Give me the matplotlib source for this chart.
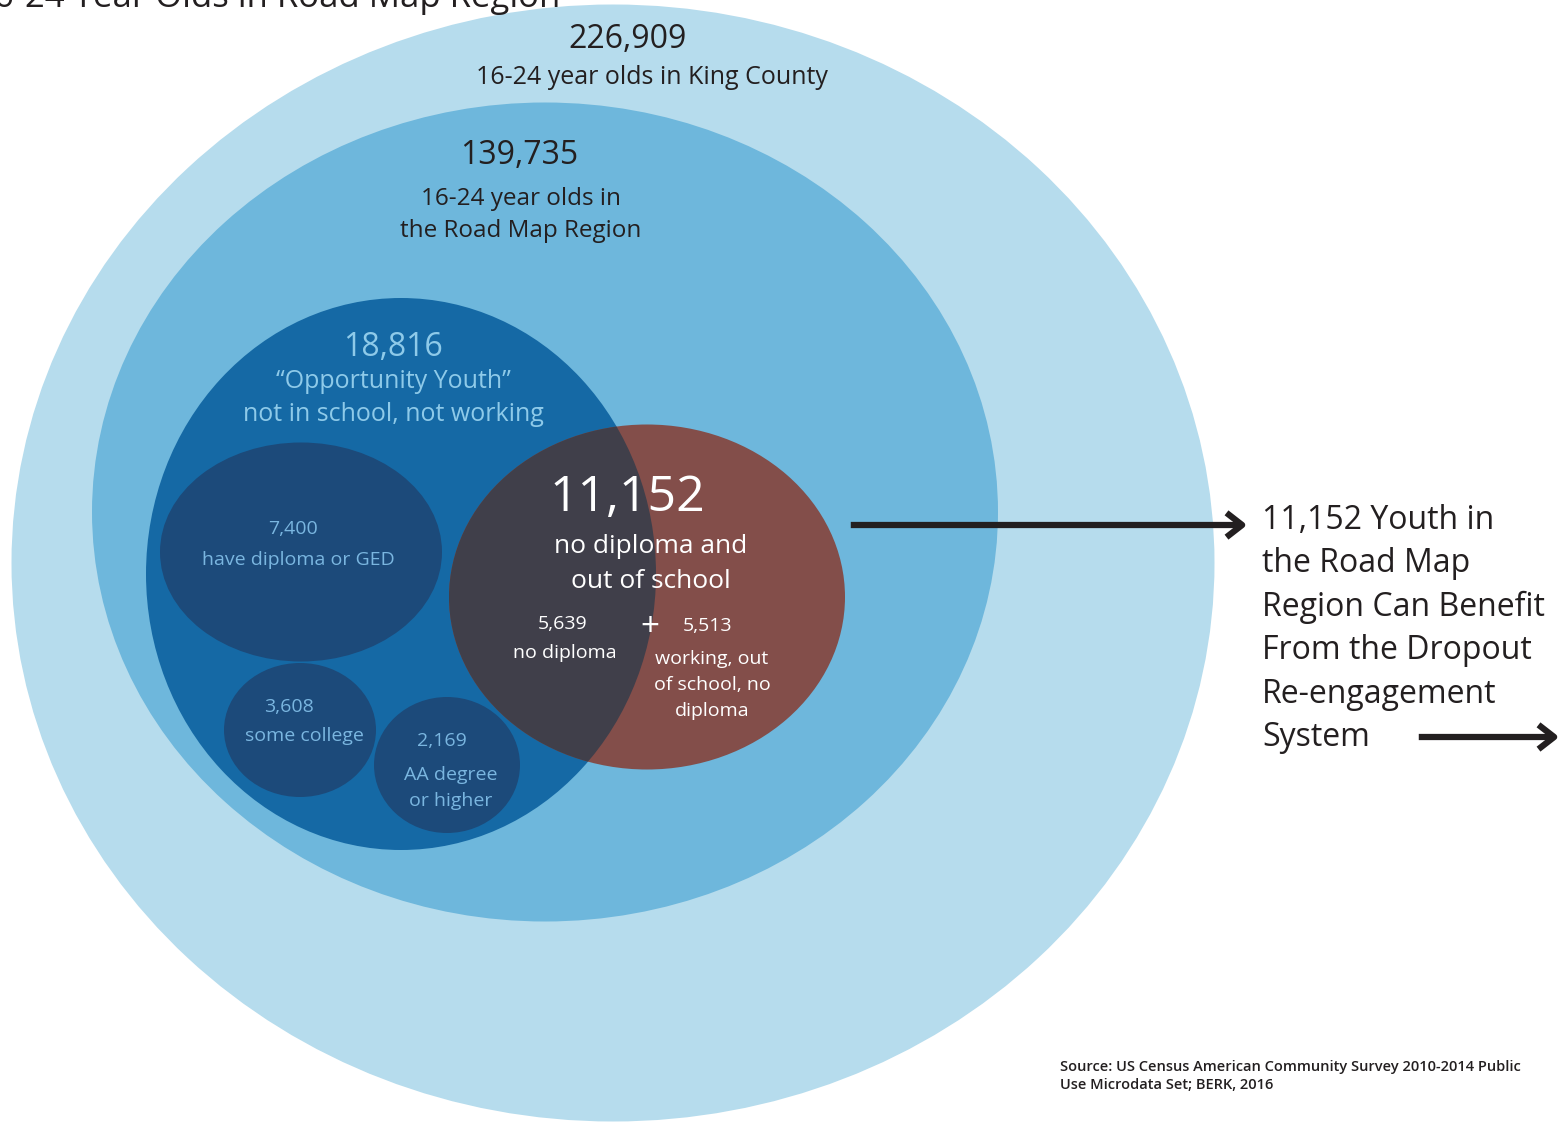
# Nested population bubbles - Road Map Region youth
import matplotlib.pyplot as plt
from matplotlib.patches import Ellipse

# Data
group_names = ['king_county', 'road_map', 'opportunity', 'diploma_ged',
               'some_college', 'aa_degree', 'no_diploma_out']
group_counts = [226909, 139735, 18816, 7400, 3608, 2169, 11152]
group_labels = ['16-24 year olds in King County',
                '16-24 year olds in\nthe Road Map Region',
                '\u201cOpportunity Youth\u201d\nnot in school, not working',
                'have diploma or GED',
                'some college',
                'AA degree\nor higher',
                'no diploma and\nout of school']
split_counts = [5639, 5513]
split_labels = ['no diploma', 'working, out\nof school, no\ndiploma']
callout = '11,152 Youth in\nthe Road Map\nRegion Can Benefit\nFrom the Dropout\nRe-engagement\nSystem'
source = 'Source: US Census American Community Survey 2010-2014 Public\nUse Microdata Set; BERK, 2016'
title = '16-24 Year Olds in Road Map Region'

# layout (pixel coords: center x, center y, width, height) and colours
shapes = {
    'king_county':    (613, 563, 1203, 1117, '#b6dced'),
    'road_map':       (545, 512, 906, 819, '#6eb7dc'),
    'opportunity':    (401, 574, 510, 552, '#1569a5'),
    'diploma_ged':    (301, 552, 282, 219, '#1c4a7a'),
    'some_college':   (300, 730, 152, 134, '#1c4a7a'),
    'aa_degree':      (447, 765, 146, 136, '#1c4a7a'),
    'no_diploma_out': (647, 597, 396, 345, '#834e4a'),
}
overlap_color = '#403f4a'

plt.rcParams['font.family'] = ['Open Sans', 'DejaVu Sans']

fig = plt.figure(figsize=(15.64, 11.25), dpi=100)
ax = fig.add_axes([0, 0, 1, 1])
ax.set_xlim(0, 1564)
ax.set_ylim(1125, 0)
ax.axis('off')

patches = {}
for name in group_names:
    cx, cy, w, h, c = shapes[name]
    e = Ellipse((cx, cy), w, h, facecolor=c, edgecolor='none')
    ax.add_patch(e)
    patches[name] = e

# overlap of red bubble with opportunity youth bubble
cx, cy, w, h, c = shapes['no_diploma_out']
ov = Ellipse((cx, cy), w, h, facecolor=overlap_color, edgecolor='none')
ax.add_patch(ov)
ov.set_clip_path(patches['opportunity'])

dark = '#231f20'
light = '#8ecae9'
mid = '#7ab6e0'

# King County
ax.text(628, 39, f'{group_counts[0]:,}', ha='center', va='center', fontsize=23, color=dark)
ax.text(652, 78, group_labels[0], ha='center', va='center', fontsize=18, color=dark)
# Road map
ax.text(519, 156, f'{group_counts[1]:,}', ha='center', va='center', fontsize=23, color=dark)
ax.text(521, 215, group_labels[1], ha='center', va='center', fontsize=17.5, color=dark, linespacing=1.45)
# Opportunity youth
ax.text(393, 347, f'{group_counts[2]:,}', ha='center', va='center', fontsize=23, color=light)
ax.text(393, 398, group_labels[2], ha='center', va='center', fontsize=18, color=light, linespacing=1.45)
# sub groups
ax.text(293, 529, f'{group_counts[3]:,}', ha='center', va='center', fontsize=14, color=mid)
ax.text(298, 560, group_labels[3], ha='center', va='center', fontsize=14, color=mid)
ax.text(289, 707, f'{group_counts[4]:,}', ha='center', va='center', fontsize=14, color=mid)
ax.text(304, 736, group_labels[4], ha='center', va='center', fontsize=14, color=mid)
ax.text(442, 741, f'{group_counts[5]:,}', ha='center', va='center', fontsize=14, color=mid)
ax.text(451, 788, group_labels[5], ha='center', va='center', fontsize=14, color=mid, linespacing=1.6)
# no diploma and out of school
ax.text(627, 498, f'{group_counts[6]:,}', ha='center', va='center', fontsize=36, color='white')
ax.text(651, 564, group_labels[6], ha='center', va='center', fontsize=19, color='white', linespacing=1.55)
ax.text(563, 624, f'{split_counts[0]:,}', ha='center', va='center', fontsize=14, color='white')
ax.text(565, 653, split_labels[0], ha='center', va='center', fontsize=14, color='white')
ax.text(650, 627, '+', ha='center', va='center', fontsize=24, color='white')
ax.text(708, 626, f'{split_counts[1]:,}', ha='center', va='center', fontsize=14, color='white')
ax.text(712, 685, split_labels[1], ha='center', va='center', fontsize=14, color='white', linespacing=1.55)

# arrows and callout
arrow = dict(arrowstyle='->, head_length=0.45, head_width=0.35', lw=4.5, color=dark,
             mutation_scale=25, capstyle='butt')
ax.annotate('', xy=(1250, 525), xytext=(848, 525), arrowprops=arrow)
ax.annotate('', xy=(1562, 737), xytext=(1416, 737), arrowprops=arrow)
ax.text(1262, 629, callout, ha='left', va='center', fontsize=23, color=dark, linespacing=1.41)

ax.text(1060, 1076, source, ha='left', va='center', fontsize=10.5, color=dark,
        fontweight='semibold', linespacing=1.4)
ax.text(560, 7, title, ha='right', va='baseline', fontsize=25, color=dark)

plt.savefig('out.png', dpi=100)
